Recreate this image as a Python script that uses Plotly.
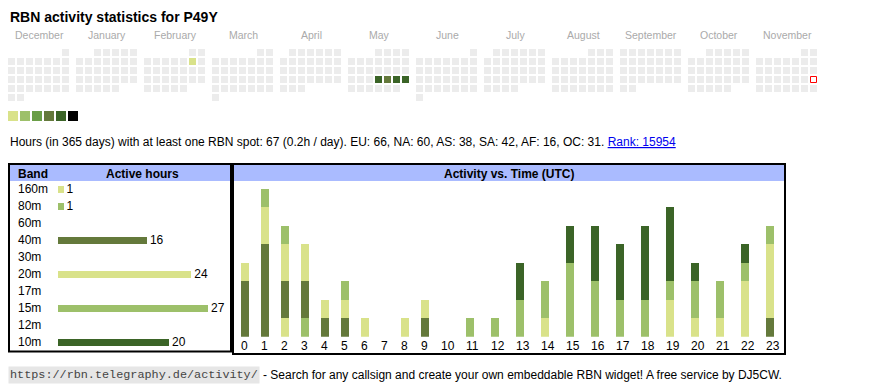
import datetime as dt
import plotly.graph_objects as go

W, H = 870, 390

# ---------------- data ----------------
callsign = "P49Y"
period_start = "2024-12-01"
period_end = "2025-11-30"
today_str = "2025-11-23"
active_dates = ["2025-02-08", "2025-05-22", "2025-05-23", "2025-05-24", "2025-05-25"]
active_levels = [1, 5, 4, 5, 5]
level_colors = ["#d9e28a", "#9dc06a", "#6a9e47", "#64793b", "#3b6427", "#000000"]
empty_color = "#ececec"

total_hours = 67
days_in_period = 365
hours_per_day = "0.2"
continents = ["EU", "NA", "AS", "SA", "AF", "OC"]
continent_hours = [66, 60, 38, 42, 16, 31]
rank = 15954

bands = ["160m", "80m", "60m", "40m", "30m", "20m", "17m", "15m", "12m", "10m"]
band_hours = [1, 1, 0, 16, 0, 24, 0, 27, 0, 20]
band_colors = ["#d9e28a", "#9dc06a", "#8fb3d9", "#64793b", "#c9a36b",
               "#d9e28a", "#b58bc7", "#9dc06a", "#e39b8a", "#3b6427"]

utc_hours = list(range(24))
hourly_160m = [0, 0, 1, 0, 0, 0, 0, 0, 0, 0, 0, 0, 0, 0, 0, 0, 0, 0, 0, 0, 0, 0, 0, 0]
hourly_80m = [0, 0, 0, 1, 0, 0, 0, 0, 0, 0, 0, 0, 0, 0, 0, 0, 0, 0, 0, 0, 0, 0, 0, 0]
hourly_60m = [0, 0, 0, 0, 0, 0, 0, 0, 0, 0, 0, 0, 0, 0, 0, 0, 0, 0, 0, 0, 0, 0, 0, 0]
hourly_40m = [3, 5, 2, 2, 1, 1, 0, 0, 0, 1, 0, 0, 0, 0, 0, 0, 0, 0, 0, 0, 0, 0, 0, 1]
hourly_30m = [0, 0, 0, 0, 0, 0, 0, 0, 0, 0, 0, 0, 0, 0, 0, 0, 0, 0, 0, 0, 0, 0, 0, 0]
hourly_20m = [1, 2, 2, 2, 1, 1, 1, 0, 1, 1, 0, 0, 0, 0, 1, 0, 0, 0, 0, 2, 1, 1, 3, 4]
hourly_17m = [0, 0, 0, 0, 0, 0, 0, 0, 0, 0, 0, 0, 0, 0, 0, 0, 0, 0, 0, 0, 0, 0, 0, 0]
hourly_15m = [0, 1, 1, 0, 0, 1, 0, 0, 0, 0, 0, 1, 1, 2, 2, 4, 3, 2, 2, 1, 2, 2, 1, 1]
hourly_12m = [0, 0, 0, 0, 0, 0, 0, 0, 0, 0, 0, 0, 0, 0, 0, 0, 0, 0, 0, 0, 0, 0, 0, 0]
hourly_10m = [0, 0, 0, 0, 0, 0, 0, 0, 0, 0, 0, 0, 0, 2, 0, 2, 3, 3, 4, 4, 1, 0, 1, 0]
hourly_by_band = [hourly_160m, hourly_80m, hourly_60m, hourly_40m, hourly_30m,
                  hourly_20m, hourly_17m, hourly_15m, hourly_12m, hourly_10m]

footer_url = "https://rbn.telegraphy.de/activity/"
footer_text = "- Search for any callsign and create your own embeddable RBN widget! A free service by DJ5CW."

# ---------------- layout constants (pixels) ----------------
FONT = "Liberation Sans, Arial, sans-serif"
CAL_X0, CAL_Y0 = 8, 49
CELL, CELL_PITCH, MONTH_PITCH = 7, 9, 68


def px(v):
    return v / W


def py(v):
    return 1 - v / H


fig = go.Figure()

# ---------------- calendar ----------------
d0 = dt.date.fromisoformat(period_start)
d1 = dt.date.fromisoformat(period_end)
today = dt.date.fromisoformat(today_str)
dates = [d0 + dt.timedelta(days=i) for i in range((d1 - d0).days + 1)]
month_keys = []
for d in dates:
    if (d.year, d.month) not in month_keys:
        month_keys.append((d.year, d.month))
level_of = {dt.date.fromisoformat(s): lv for s, lv in zip(active_dates, active_levels)}

cx, cy, cc = [], [], []
tx, ty = [], []
for d in dates:
    mi = month_keys.index((d.year, d.month))
    first_wd = d.replace(day=1).weekday()
    row = (d.day - 1 + first_wd) // 7
    x = CAL_X0 + mi * MONTH_PITCH + d.weekday() * CELL_PITCH + CELL / 2
    y = CAL_Y0 + row * CELL_PITCH + CELL / 2
    if d == today:
        tx.append(x)
        ty.append(y)
        continue
    cx.append(x)
    cy.append(y)
    cc.append(level_colors[level_of[d] - 1] if d in level_of else empty_color)

fig.add_trace(go.Scatter(x=cx, y=cy, mode="markers", xaxis="x", yaxis="y",
                         marker=dict(symbol="square", size=CELL, color=cc, line=dict(width=0)),
                         hoverinfo="skip"))
fig.add_trace(go.Scatter(x=tx, y=ty, mode="markers", xaxis="x", yaxis="y",
                         marker=dict(symbol="square", size=CELL - 1, color="white",
                                     line=dict(width=1, color="#ff0000")),
                         hoverinfo="skip"))

# legend swatches
fig.add_trace(go.Scatter(x=[CAL_X0 + 5 + 12 * i for i in range(len(level_colors))],
                         y=[116] * len(level_colors), mode="markers", xaxis="x", yaxis="y",
                         marker=dict(symbol="square", size=10, color=level_colors, line=dict(width=0)),
                         hoverinfo="skip"))

annotations = []
shapes = []

annotations.append(dict(x=8, y=16.5, xref="x", yref="y", xanchor="left", yanchor="middle",
                        text=f"<b>RBN activity statistics for {callsign}</b>", showarrow=False,
                        font=dict(size=14, color="#000", family=FONT)))
for mi, (yy, mm) in enumerate(month_keys):
    annotations.append(dict(x=CAL_X0 + mi * MONTH_PITCH + (6 * CELL_PITCH + CELL) / 2 + 0.5, y=35,
                            xref="x", yref="y", xanchor="center", yanchor="middle",
                            text=dt.date(yy, mm, 1).strftime("%B"), showarrow=False,
                            font=dict(size=10.5, color="#aaaaaa", family=FONT)))

cont_txt = ", ".join(f"{c}: {v}" for c, v in zip(continents, continent_hours))
stats = (f"Hours (in {days_in_period} days) with at least one RBN spot: {total_hours} "
         f"({hours_per_day}h / day). {cont_txt}. "
         f"<span style='color:#0000ee'><u>Rank: {rank}</u></span>")
annotations.append(dict(x=7.5, y=142, xref="x", yref="y", xanchor="left", yanchor="middle",
                        text=stats, showarrow=False, font=dict(size=12, color="#000", family=FONT)))

# ---------------- band table ----------------
shapes.append(dict(type="rect", xref="x", yref="y", x0=10, x1=230, y0=165, y1=181,
                   fillcolor="#aabbff", line=dict(width=0), layer="below"))
shapes.append(dict(type="rect", xref="x", yref="y", x0=234, x1=784, y0=165, y1=181,
                   fillcolor="#aabbff", line=dict(width=0), layer="below"))
shapes.append(dict(type="rect", xref="x", yref="y", x0=9, x1=231, y0=164, y1=351.5,
                   line=dict(width=2, color="#000")))
shapes.append(dict(type="rect", xref="x", yref="y", x0=233, x1=785, y0=164, y1=354,
                   line=dict(width=2, color="#000")))

annotations.append(dict(x=16, y=174, xref="x", yref="y", xanchor="left", yanchor="middle",
                        text="<b>Band</b>", showarrow=False, font=dict(size=12, color="#000", family=FONT)))
annotations.append(dict(x=142, y=174, xref="x", yref="y", xanchor="center", yanchor="middle",
                        text="<b>Active hours</b>", showarrow=False, font=dict(size=12, color="#000", family=FONT)))
annotations.append(dict(x=509, y=174, xref="x", yref="y", xanchor="center", yanchor="middle",
                        text="<b>Activity vs. Time (UTC)</b>", showarrow=False,
                        font=dict(size=12, color="#000", family=FONT)))
for b in bands:
    annotations.append(dict(x=16, y=b, xref="x", yref="y2", xanchor="left", yanchor="middle",
                            text=b, showarrow=False, font=dict(size=12, color="#000", family=FONT)))

fig.add_trace(go.Bar(y=bands, x=band_hours, orientation="h", xaxis="x2", yaxis="y2",
                     marker=dict(color=band_colors, line=dict(width=0)), width=7 / 17,
                     text=[str(v) if v else "" for v in band_hours], textposition="outside",
                     constraintext="none", cliponaxis=False,
                     textfont=dict(size=12, color="#000", family=FONT), hoverinfo="skip"))

# ---------------- activity vs time ----------------
col_w = [15 + 5 * len(str(h)) for h in utc_hours]
x_left = []
acc = 0
for w in col_w:
    x_left.append(acc)
    acc += w
for b, col, vals in zip(bands, band_colors, hourly_by_band):
    fig.add_trace(go.Bar(x=x_left, y=vals, xaxis="x3", yaxis="y3", width=8, offset=0,
                         marker=dict(color=col, line=dict(width=0)), name=b, hoverinfo="skip"))
totals = [sum(v) for v in zip(*hourly_by_band)]

fig.update_layout(
    width=W, height=H, autosize=False, margin=dict(l=0, r=0, t=0, b=0, pad=0),
    paper_bgcolor="white", plot_bgcolor="rgba(0,0,0,0)", showlegend=False,
    barmode="stack", font=dict(family=FONT, size=12, color="#000"),
    xaxis=dict(domain=[0, 1], range=[0, W], visible=False, fixedrange=True),
    yaxis=dict(domain=[0, 1], range=[H, 0], visible=False, fixedrange=True),
    xaxis2=dict(domain=[px(58), px(208)], range=[0, max(band_hours)], visible=False,
                anchor="y2", fixedrange=True),
    yaxis2=dict(domain=[py(350.5), py(180.8)], type="category", categoryorder="array",
                categoryarray=bands, range=[len(bands) - 0.5, -0.5], visible=False,
                anchor="x2", fixedrange=True),
    xaxis3=dict(domain=[px(236), px(783)], range=[-5, 542], anchor="y3",
                tickvals=x_left, ticktext=[str(h) for h in utc_hours],
                ticklabelposition="outside right",
                showgrid=False, zeroline=False, showline=False, ticks="",
                tickfont=dict(size=12, color="#000", family=FONT), fixedrange=True),
    yaxis3=dict(domain=[py(336.7), py(188.7)], range=[0, max(totals)], visible=False,
                anchor="x3", fixedrange=True),
    annotations=annotations, shapes=shapes, hovermode=False,
)

# footer
fig.add_annotation(x=8, y=374.5, xref="x", yref="y", xanchor="left", yanchor="middle",
                   text=footer_url, showarrow=False, bgcolor="#e6e6e6", borderpad=1,
                   font=dict(size=11.8, color="#444444", family="Liberation Mono, Courier New, monospace"))
fig.add_annotation(x=261, y=374.5, xref="x", yref="y", xanchor="left", yanchor="middle",
                   text=footer_text, showarrow=False, font=dict(size=12, color="#000", family=FONT))

fig.write_html("out.html", config={"displayModeBar": False},
               post_script="document.body.style.margin='0';")
